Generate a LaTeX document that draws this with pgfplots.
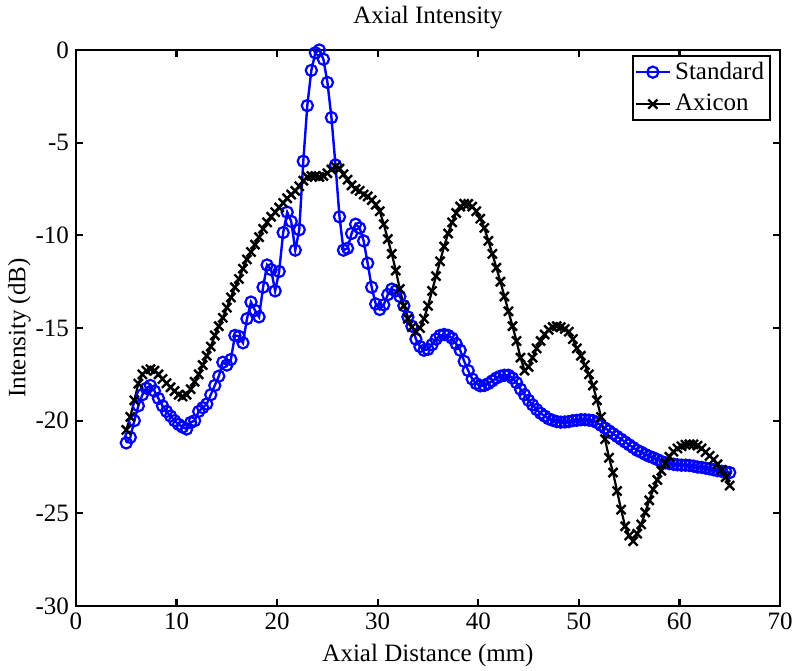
\documentclass[border=0pt]{standalone}
\usepackage{fontspec}
\setmainfont{Liberation Serif}
\usepackage{pgfplots}
\pgfplotsset{compat=1.18}
\newcommand{\fs}{\fontsize{12.5}{15}\selectfont}
\begin{document}
\begin{tikzpicture}
\begin{axis}[
  scale only axis,
  width=352pt, height=278pt,
  xmin=0, xmax=70, ymin=-30, ymax=0,
  xtick={0,10,...,70}, ytick={-30,-25,...,0},
  tick align=inside, major tick length=3.5pt,
  axis line style={line width=1.1pt},
  every tick/.style={line width=1.1pt, black},
  /pgf/number format/assume math mode=true,
  tick label style={font=\fs},
  label style={font=\fs},
  ylabel shift=-4.5pt,
  title style={font=\fs, yshift=1pt},
  title={Axial Intensity},
  xlabel={Axial Distance (mm)},
  ylabel={Intensity (dB)},
  legend style={font=\fs, at={(1,1)}, anchor=north east, xshift=-4.5pt, yshift=-2.5pt, draw=black, line width=1pt, inner sep=1pt, row sep=2pt},
  legend cell align=left,
]
\coordinate (ll) at (rel axis cs:0,0);
\coordinate (ur) at (rel axis cs:1,1);
\addplot[blue, line width=1.2pt, mark=o, mark size=2.8pt, mark options={line width=1.1pt}] coordinates {
(5.0,-21.2) (5.4,-20.9) (5.8,-20.0) (6.2,-19.2) (6.6,-18.6) (7.0,-18.25) (7.4,-18.1) (7.8,-18.4) (8.2,-18.8) (8.6,-19.2)
(9.0,-19.5) (9.4,-19.75) (9.8,-20.0) (10.2,-20.2) (10.6,-20.35) (11.0,-20.45) (11.4,-20.1) (11.8,-20.0) (12.2,-19.5) (12.6,-19.3)
(13.0,-19.1) (13.4,-18.6) (13.8,-18.1) (14.2,-17.6) (14.6,-16.85) (15.0,-17.0) (15.4,-16.7) (15.8,-15.4) (16.2,-15.45) (16.6,-15.8)
(17.0,-14.5) (17.4,-13.6) (17.8,-14.05) (18.2,-14.4) (18.6,-12.8) (19.0,-11.6) (19.4,-11.85) (19.8,-13.0) (20.2,-11.95) (20.6,-9.85)
(21.0,-8.75) (21.4,-9.25) (21.8,-10.8) (22.2,-9.7) (22.6,-6.0) (23.0,-3.0) (23.4,-1.1) (23.8,-0.15) (24.2,0.0) (24.6,-0.5)
(25.0,-1.75) (25.4,-3.65) (25.8,-6.2) (26.2,-9.0) (26.6,-10.8) (27.0,-10.7) (27.4,-9.9) (27.8,-9.4) (28.2,-9.6) (28.6,-10.3)
(29.0,-11.5) (29.4,-12.8) (29.8,-13.7) (30.2,-14.0) (30.6,-13.75) (31.0,-13.2) (31.4,-12.9) (31.8,-13.0) (32.2,-13.3) (32.6,-13.8)
(33.0,-14.4) (33.4,-14.9) (33.8,-15.6) (34.2,-16.0) (34.6,-16.2) (35.0,-16.15) (35.4,-15.9) (35.8,-15.6) (36.2,-15.4) (36.6,-15.35)
(37.0,-15.4) (37.4,-15.55) (37.8,-15.85) (38.2,-16.2) (38.6,-16.8) (39.0,-17.3) (39.4,-17.75) (39.8,-18.0) (40.2,-18.12) (40.6,-18.1)
(41.0,-18.0) (41.4,-17.85) (41.8,-17.7) (42.2,-17.6) (42.6,-17.55) (43.0,-17.55) (43.4,-17.7) (43.8,-17.95) (44.2,-18.3) (44.6,-18.6)
(45.0,-18.9) (45.4,-19.15) (45.8,-19.4) (46.2,-19.6) (46.6,-19.75) (47.0,-19.9) (47.4,-19.98) (47.8,-20.05) (48.2,-20.08) (48.6,-20.07)
(49.0,-20.05) (49.4,-20.0) (49.8,-19.98) (50.2,-19.95) (50.6,-19.95) (51.0,-19.97) (51.4,-20.0) (51.8,-20.1) (52.2,-20.25) (52.6,-20.4)
(53.0,-20.55) (53.4,-20.7) (53.8,-20.85) (54.2,-21.0) (54.6,-21.15) (55.0,-21.3) (55.4,-21.45) (55.8,-21.6) (56.2,-21.7) (56.6,-21.82)
(57.0,-21.92) (57.4,-22.0) (57.8,-22.1) (58.2,-22.2) (58.6,-22.27) (59.0,-22.32) (59.4,-22.35) (59.8,-22.38) (60.2,-22.4) (60.6,-22.4)
(61.0,-22.42) (61.4,-22.45) (61.8,-22.5) (62.2,-22.52) (62.6,-22.56) (63.0,-22.6) (63.4,-22.65) (63.8,-22.7) (64.2,-22.73) (64.6,-22.76)
(65.0,-22.8)
};
\addlegendentry{Standard}
\addplot[black, line width=1.1pt, mark=x, mark size=3.2pt, mark options={line width=1.2pt}] coordinates {
(5.0,-20.5) (5.4,-19.8) (5.8,-18.9) (6.2,-18.0) (6.6,-17.5) (7.0,-17.3) (7.4,-17.22) (7.8,-17.3) (8.2,-17.5) (8.6,-17.75)
(9.0,-17.98) (9.4,-18.2) (9.8,-18.4) (10.2,-18.6) (10.6,-18.7) (11.0,-18.6) (11.4,-18.3) (11.8,-17.9) (12.2,-17.5) (12.6,-17.0)
(13.0,-16.5) (13.4,-16.0) (13.8,-15.4) (14.2,-14.9) (14.6,-14.45) (15.0,-13.9) (15.4,-13.35) (15.8,-12.8) (16.2,-12.35) (16.6,-11.8)
(17.0,-11.3) (17.4,-10.9) (17.8,-10.5) (18.2,-10.1) (18.6,-9.65) (19.0,-9.3) (19.4,-9.0) (19.8,-8.75) (20.2,-8.5) (20.6,-8.25)
(21.0,-8.0) (21.4,-7.8) (21.8,-7.6) (22.2,-7.35) (22.6,-7.05) (23.0,-6.85) (23.4,-6.8) (23.8,-6.8) (24.2,-6.85) (24.6,-6.8)
(25.0,-6.65) (25.4,-6.45) (25.8,-6.3) (26.2,-6.4) (26.6,-6.7) (27.0,-7.0) (27.4,-7.3) (27.8,-7.5) (28.2,-7.6) (28.6,-7.8)
(29.0,-7.9) (29.4,-8.1) (29.8,-8.35) (30.2,-8.7) (30.6,-9.4) (31.0,-10.2) (31.4,-11.0) (31.8,-11.9) (32.2,-12.9) (32.6,-13.8)
(33.0,-14.5) (33.4,-14.95) (33.8,-15.2) (34.2,-15.0) (34.6,-14.5) (35.0,-13.8) (35.4,-13.0) (35.8,-12.2) (36.2,-11.4) (36.6,-10.6)
(37.0,-9.9) (37.4,-9.3) (37.8,-8.8) (38.2,-8.45) (38.6,-8.3) (39.0,-8.3) (39.4,-8.45) (39.8,-8.7) (40.2,-9.1) (40.6,-9.6)
(41.0,-10.3) (41.4,-11.0) (41.8,-11.75) (42.2,-12.5) (42.6,-13.3) (43.0,-14.1) (43.4,-14.9) (43.8,-15.7) (44.2,-16.6) (44.6,-17.3)
(45.0,-17.1) (45.4,-16.6) (45.8,-16.1) (46.2,-15.7) (46.6,-15.35) (47.0,-15.1) (47.4,-14.95) (47.8,-14.9) (48.2,-14.95) (48.6,-15.05)
(49.0,-15.2) (49.4,-15.6) (49.8,-16.1) (50.2,-16.5) (50.6,-17.0) (51.0,-17.5) (51.4,-18.1) (51.8,-18.9) (52.2,-19.8) (52.6,-21.0)
(53.0,-22.0) (53.4,-22.8) (53.8,-23.8) (54.2,-24.8) (54.6,-25.7) (55.0,-26.2) (55.4,-26.5) (55.8,-26.1) (56.2,-25.6) (56.6,-24.95)
(57.0,-24.3) (57.4,-23.7) (57.8,-23.2) (58.2,-22.7) (58.6,-22.3) (59.0,-21.95) (59.4,-21.67) (59.8,-21.5) (60.2,-21.38) (60.6,-21.3)
(61.0,-21.27) (61.4,-21.28) (61.8,-21.35) (62.2,-21.5) (62.6,-21.7) (63.0,-21.9) (63.4,-22.1) (63.8,-22.35) (64.2,-22.65) (64.6,-23.05)
(65.0,-23.5)
};
\addlegendentry{Axicon}
\end{axis}
\pgfresetboundingbox
\path (ll) ++(-38pt,-32pt) rectangle ([shift={(10pt,25pt)}]ur);
\end{tikzpicture}
\end{document}
